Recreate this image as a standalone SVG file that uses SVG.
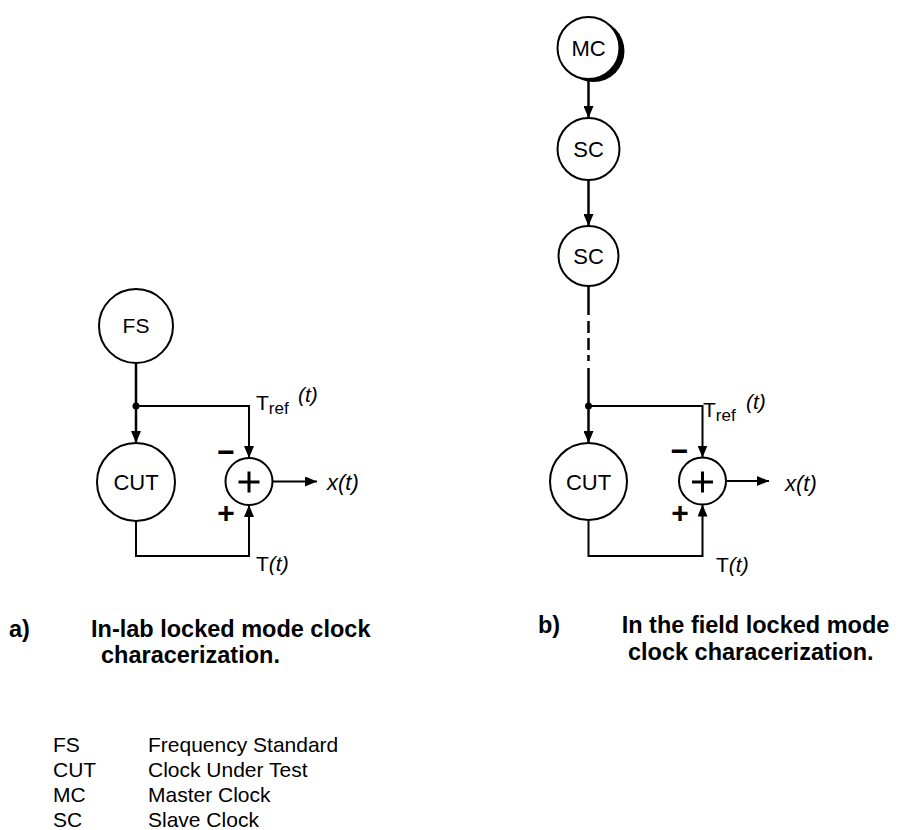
<svg xmlns="http://www.w3.org/2000/svg" width="898" height="830" viewBox="0 0 898 830">
<style>
.nd{fill:#fff;stroke:#000;stroke-width:2}
.ln{fill:none;stroke:#000;stroke-width:2}
.vl{fill:none;stroke:#000;stroke-width:2.5}
.sym{fill:none;stroke:#000;stroke-width:3}
.lbl{font-family:"Liberation Sans",Arial,sans-serif;font-size:22px;fill:#000}
.lb{font-family:"Liberation Sans",Arial,sans-serif;font-size:21px;fill:#000}
.it{font-style:italic}
.sg{font-family:"Liberation Sans",Arial,sans-serif;font-size:30px;font-weight:bold;fill:#000;text-anchor:middle}
.ttl{font-family:"Liberation Sans",Arial,sans-serif;font-size:23.5px;font-weight:bold;fill:#000}
.lg{font-family:"Liberation Sans",Arial,sans-serif;font-size:21px;fill:#000}
</style>
<defs>
<marker id="arr" viewBox="0 0 12 10" refX="12" refY="5" markerWidth="12" markerHeight="10" markerUnits="userSpaceOnUse" orient="auto">
<path d="M0,0 L12,5 L0,10 z" fill="#000"/>
</marker>
</defs>

<g id="connectors">
<line class="vl" x1="136" y1="363" x2="136" y2="443" marker-end="url(#arr)"/>
<polyline class="ln" points="136,406 249,406 249,458" marker-end="url(#arr)"/>
<polyline class="ln" points="136,521 136,556 249,556 249,505" marker-end="url(#arr)"/>
<line class="ln" x1="272.5" y1="481.5" x2="317" y2="481.5" marker-end="url(#arr)"/>
<circle cx="136" cy="406" r="3.5" fill="#000"/>
<line class="vl" x1="588.5" y1="79" x2="588.5" y2="118" marker-end="url(#arr)"/>
<line class="vl" x1="588.5" y1="180" x2="588.5" y2="226" marker-end="url(#arr)"/>
<line class="vl" x1="588.5" y1="286" x2="588.5" y2="315"/>
<line class="vl" x1="588.5" y1="321" x2="588.5" y2="333" stroke-width="3"/>
<line class="vl" x1="588.5" y1="338" x2="588.5" y2="350" stroke-width="3"/>
<line class="vl" x1="588.5" y1="355" x2="588.5" y2="361" stroke-width="3"/>
<line class="vl" x1="588.5" y1="368" x2="588.5" y2="443" marker-end="url(#arr)"/>
<polyline class="ln" points="588.5,406 702.5,406 702.5,457.5" marker-end="url(#arr)"/>
<polyline class="ln" points="588.5,520 588.5,556 702.5,556 702.5,504.5" marker-end="url(#arr)"/>
<line class="ln" x1="726" y1="481" x2="769" y2="481" marker-end="url(#arr)"/>
<circle cx="588.5" cy="406" r="3.5" fill="#000"/>
</g>

<g id="node-FS">
<circle class="nd" cx="136" cy="326" r="37"/>
<text class="lb" x="136" y="333" text-anchor="middle">FS</text>
</g>
<g id="node-CUT-a">
<circle class="nd" cx="136" cy="482" r="39"/>
<text class="lbl" x="136" y="490" text-anchor="middle">CUT</text>
</g>
<g id="node-sum-a">
<circle class="nd" cx="249" cy="481.5" r="23.5"/>
<line class="sym" x1="238.5" y1="482" x2="259.5" y2="482"/>
<line class="sym" x1="249" y1="471.5" x2="249" y2="492.5"/>
</g>
<g id="labels-a">
<text class="sg" x="226" y="462">−</text>
<text class="sg" x="226" y="523">+</text>
<text class="lb" x="256" y="410" font-size="22">T<tspan font-size="17" dy="4">ref</tspan></text>
<text class="lb it" x="298" y="402">(t)</text>
<text class="lb" x="256" y="571" font-size="22">T<tspan class="it">(t)</tspan></text>
<text class="lbl it" x="327" y="490">x(t)</text>
</g>

<g id="node-MC">
<circle cx="593.5" cy="51" r="31" fill="#000"/>
<circle class="nd" cx="588.5" cy="48" r="31"/>
<text class="lbl" x="588.5" y="56" text-anchor="middle">MC</text>
</g>
<g id="node-SC1">
<circle class="nd" cx="588.5" cy="149" r="31"/>
<text class="lbl" x="588.5" y="157" text-anchor="middle">SC</text>
</g>
<g id="node-SC2">
<circle class="nd" cx="588.5" cy="256" r="30"/>
<text class="lbl" x="588.5" y="264" text-anchor="middle">SC</text>
</g>
<g id="node-CUT-b">
<circle class="nd" cx="588.5" cy="481.5" r="38.5"/>
<text class="lbl" x="588.5" y="489.5" text-anchor="middle">CUT</text>
</g>
<g id="node-sum-b">
<circle class="nd" cx="702.5" cy="481" r="23.5"/>
<line class="sym" x1="692" y1="482" x2="713" y2="482"/>
<line class="sym" x1="702.5" y1="471.5" x2="702.5" y2="492.5"/>
</g>
<g id="labels-b">
<text class="sg" x="679.5" y="461">−</text>
<text class="sg" x="680" y="523">+</text>
<text class="lb" x="703" y="417" font-size="22">T<tspan font-size="17" dy="4">ref</tspan></text>
<text class="lb it" x="746" y="409">(t)</text>
<text class="lb" x="716" y="572" font-size="22">T<tspan class="it">(t)</tspan></text>
<text class="lbl it" x="785" y="491">x(t)</text>
</g>

<g id="titles">
<text class="ttl" x="9" y="637">a)</text>
<text class="ttl" x="91" y="637">In-lab locked mode clock</text>
<text class="ttl" x="101" y="663">characerization.</text>
<text class="ttl" x="538" y="633">b)</text>
<text class="ttl" x="621.7" y="633">In the field locked mode</text>
<text class="ttl" x="628" y="660">clock characerization.</text>
</g>

<g id="legend">
<text class="lg" x="53" y="752">FS</text><text class="lg" x="148" y="752">Frequency Standard</text>
<text class="lg" x="53" y="777">CUT</text><text class="lg" x="148" y="777">Clock Under Test</text>
<text class="lg" x="53" y="802">MC</text><text class="lg" x="148" y="802">Master Clock</text>
<text class="lg" x="53" y="827">SC</text><text class="lg" x="148" y="827">Slave Clock</text>
</g>
</svg>
